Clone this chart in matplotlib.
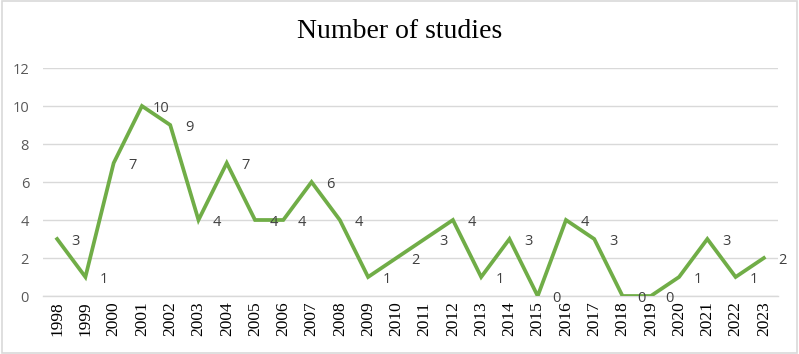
import matplotlib
matplotlib.use('Agg')
import matplotlib.pyplot as plt
from matplotlib.patches import Rectangle

# data
years = [str(y) for y in range(1998, 2024)]
studies = [3, 1, 7, 10, 9, 4, 7, 4, 4, 6, 4, 1, 2, 3, 4, 1, 3, 0, 4, 3, 0, 0, 1, 3, 1, 2]
yticks = [0, 2, 4, 6, 8, 10, 12]

fig = plt.figure(figsize=(7.99, 3.54), dpi=100)
ax = fig.add_axes([43 / 799, 1 - 296 / 354, 735 / 799, 228 / 354])

x = list(range(len(years)))
ax.plot(x, studies, color='#70AD47', linewidth=2.7, solid_joinstyle='miter', zorder=3)

for xi, v in zip(x, studies):
    ax.annotate(str(v), (xi, v), xytext=(13.5, -1.5), textcoords='offset points',
                ha='center', va='center', fontsize=10.5, color='#404040',
                family='Open Sans', zorder=4)

ax.set_xlim(-0.5, len(years) - 0.5)
ax.set_ylim(0, 12)
ax.set_yticks(yticks)
ax.set_xticks(x)
ax.set_xticklabels(years, rotation=90, family='Liberation Serif', fontsize=12.5, color='black')
ax.tick_params(axis='y', length=0, pad=10, labelsize=10.5, labelcolor='#595959')
ax.tick_params(axis='x', length=0, pad=4)
for lab in ax.get_yticklabels():
    lab.set_family('Open Sans')
ax.yaxis.grid(True, color='#D9D9D9', linewidth=1)
ax.set_axisbelow(True)
for s in ['top', 'right', 'left']:
    ax.spines[s].set_visible(False)
ax.spines['bottom'].set_color('#D9D9D9')
ax.spines['bottom'].set_linewidth(1)

fig.text(0.5, 1 - 32 / 354, 'Number of studies', ha='center', va='center',
         family='Liberation Serif', fontsize=20, color='black')

# light border around the chart area
fig.patches.append(Rectangle((0.002, 0.003), 0.996, 0.994, transform=fig.transFigure,
                             fill=False, edgecolor='#D9D9D9', linewidth=1.2))

fig.savefig('out.png', dpi=100)
